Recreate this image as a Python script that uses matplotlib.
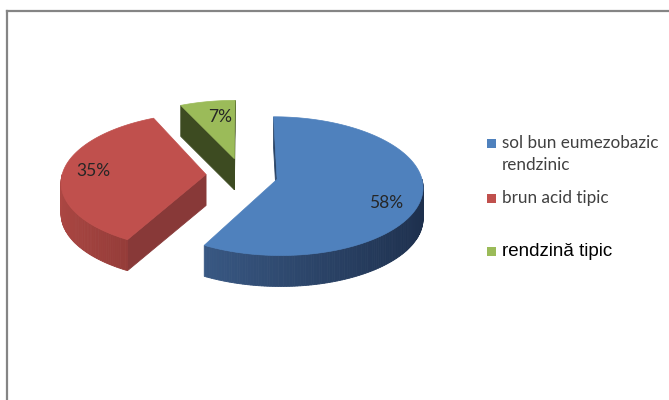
import numpy as np
import matplotlib
matplotlib.use("Agg")
import matplotlib.pyplot as plt
from matplotlib.patches import Polygon
from matplotlib.lines import Line2D

# Soil type shares (%)
categories = ["sol bun eumezobazic\nrendzinic", "brun acid tipic", "rendzină tipic"]
values = [58, 35, 7]

top_colors = ["#4F81BD", "#C0504D", "#9BBB59"]
side_light = ["#44699A", "#AC4743", "#6E8A3A"]
side_dark = ["#1D2F4C", "#5E2321", "#3B4A1F"]
cut_colors = ["#2A4466", "#883938", "#3D4B21"]

# Projection of the tilted pie (pixel space)
CX, CY = 242.0, 175.0
RX, RY = 144.0, 68.5
K = 0.10          # perspective strength
DEPTH = 31.0      # thickness of the pie
EXPLODE = 0.25    # slice offset, in radii

fig = plt.figure(figsize=(6.69, 4.0), dpi=100)
ax = fig.add_axes([0, 0, 1, 1])
ax.set_xlim(0, 669)
ax.set_ylim(400, 0)
ax.axis("off")


def proj(u, v, z=0.0):
    s = 1.0 + K * v
    return CX + RX * u * s, CY + RY * v * s + z


def hexmix(c1, c2, t):
    a = np.array(matplotlib.colors.to_rgb(c1))
    b = np.array(matplotlib.colors.to_rgb(c2))
    return tuple(a * (1 - t) + b * t)


fracs = np.array(values, dtype=float) / sum(values)
starts = np.concatenate([[0], np.cumsum(fracs)[:-1]]) * 360.0
ends = np.cumsum(fracs) * 360.0

# draw from the back slice to the front
order = [2, 1, 0]
for i in order:
    a0, a1 = starts[i], ends[i]
    mid = np.radians((a0 + a1) / 2)
    ou, ov = EXPLODE * np.sin(mid), -EXPLODE * np.cos(mid)

    def rim(theta_deg, z=0.0):
        t = np.radians(theta_deg)
        return proj(ou + np.sin(t), ov - np.cos(t), z)

    apex_top = proj(ou, ov)
    apex_bot = proj(ou, ov, DEPTH)

    # radial cut faces that face the viewer
    for edge, sign in ((a0, -1), (a1, 1)):
        normal = np.radians(edge + sign * 90)
        if -np.cos(normal) >= -1e-6:
            pts = [apex_top, rim(edge), rim(edge, DEPTH), apex_bot]
            ax.add_patch(Polygon(pts, closed=True, facecolor=cut_colors[i],
                                 edgecolor=cut_colors[i], lw=0.6, zorder=2))

    # curved outer wall on the front half
    b0, b1 = max(a0, 90.0), min(a1, 270.0)
    if b1 > b0:
        steps = np.linspace(b0, b1, int((b1 - b0) / 1.0) + 2)
        for s0, s1 in zip(steps[:-1], steps[1:]):
            un = np.sin(np.radians((s0 + s1) / 2))
            t = np.clip((un + 1) / 2, 0, 1) ** 0.9
            col = hexmix(side_light[i], side_dark[i], t)
            pts = [rim(s0), rim(s1), rim(s1, DEPTH), rim(s0, DEPTH)]
            ax.add_patch(Polygon(pts, closed=True, facecolor=col,
                                 edgecolor=col, lw=0.6, zorder=2))

    # top face
    arc = [rim(a) for a in np.linspace(a0, a1, 200)]
    ax.add_patch(Polygon([apex_top] + arc, closed=True, facecolor=top_colors[i],
                         edgecolor=top_colors[i], lw=0.5, zorder=3))

# percentage labels
label_pos = [(386, 203), (93, 171), (220, 117)]
for v, (x, y) in zip(values, label_pos):
    ax.text(x, y, f"{v}%", ha="center", va="center", fontsize=12.5,
            family="Lato", color="#262626", zorder=5)

# legend
legend_y = [143, 198, 251]
legend_fonts = [dict(family="Lato", fontsize=12.3, color="#404040"),
                dict(family="Lato", fontsize=12.3, color="#404040"),
                dict(family="Liberation Sans", fontsize=13.5, color="#000000")]
for c, lab, y, f in zip(top_colors, categories, legend_y, legend_fonts):
    ax.add_patch(plt.Rectangle((487, y - 4), 9, 9, facecolor=c,
                               edgecolor="none", zorder=5))
    ax.text(502, y - 8, lab, ha="left", va="top", linespacing=1.45,
            zorder=5, **f)

# chart frame
fig.add_artist(Line2D([7 / 669, 1], [1 - 10.5 / 400, 1 - 10.5 / 400],
                      transform=fig.transFigure, color="#858585", lw=1.6))
fig.add_artist(Line2D([7 / 669, 7 / 669], [0, 1 - 10.5 / 400],
                      transform=fig.transFigure, color="#858585", lw=1.6))

fig.savefig("out.png", dpi=100, facecolor="white")
